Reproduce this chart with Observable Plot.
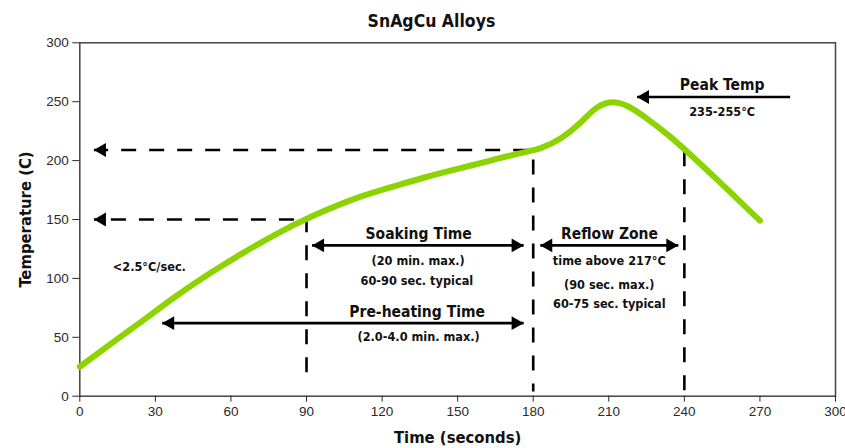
<!DOCTYPE html>
<html><head><meta charset="utf-8">
<script src="https://cdn.jsdelivr.net/npm/d3@7"></script>
<script src="https://cdn.jsdelivr.net/npm/@observablehq/plot@0.6"></script>
<style>
body{margin:0;background:#fff}
#chart svg{display:block}
</style>
</head><body><div id="chart"></div>
<script>
const title = "SnAgCu Alloys";
const xLabel = "Time (seconds)";
const yLabel = "Temperature (C)";
const xTicks = [0, 30, 60, 90, 120, 150, 180, 210, 240, 270, 300];
const yTicks = [0, 50, 100, 150, 200, 250, 300];

// reflow profile
const profileTime = [0, 12, 25, 38, 52, 65, 78, 91, 110, 123, 137, 150, 163, 176, 183, 191, 199, 204, 210, 217, 225, 233, 241, 253, 270];
const profileTemp = [25, 44, 64, 85, 105, 122, 138, 152, 169, 177, 186, 193, 200, 207, 210, 218, 232, 244, 251, 248, 236, 223, 208, 184, 149];

// dashed guide arrows (pointing left, head at x2)
const dashX1 = [178, 85];
const dashX2 = [5.6, 5.6];
const dashY = [209, 150];
// dashed vertical guides
const vLineX = [90, 180, 240];
const vLineTop = [152, 201, 208];
const vLineBottom = [12, 4, 0];

// solid arrows: heads "both" or "end" (end = x2)
const arrowX1 = [92.2, 32.7, 182.8, 282];
const arrowX2 = [176.2, 176.2, 237.6, 221.2];
const arrowY = [128, 62, 128, 254];
const arrowHeads = ["both", "both", "both", "end"];

// annotation texts
const noteText = ["Soaking Time", "(20 min. max.)", "60-90 sec. typical", "Pre-heating Time", "(2.0-4.0 min. max.)",
  "Reflow Zone", "time above 217°C", "(90 sec. max.)", "60-75 sec. typical", "Peak Temp", "235-255°C", "<2.5°C/sec."];
const noteX = [134.5, 134.3, 133.8, 133.9, 134.5, 210.3, 210.2, 210.2, 210.2, 255, 255, 27.6];
const noteY = [138, 115, 98, 71.5, 50, 138, 115, 94.6, 78, 263.8, 241.7, 109.5];
const noteSize = [15.5, 12.6, 12.6, 15.5, 12.6, 15.5, 12.6, 12.6, 12.6, 15.5, 12.6, 12.6];

const profile = profileTime.map((t, i) => ({t, temp: profileTemp[i]}));
const dashH = dashX1.map((x1, i) => ({x1, x2: dashX2[i], y: dashY[i]}));
const dashV = vLineX.map((x, i) => ({x, y1: vLineTop[i], y2: vLineBottom[i]}));
const arrows = arrowX1.map((x1, i) => ({x1, x2: arrowX2[i], y: arrowY[i], heads: arrowHeads[i]}));
const heads = [];
for (const a of arrows) {
  const dir = Math.sign(a.x2 - a.x1);
  heads.push({x: a.x2, y: a.y, dir});
  if (a.heads === "both") heads.push({x: a.x1, y: a.y, dir: -dir});
}
for (const d of dashH) heads.push({x: d.x2, y: d.y, dir: Math.sign(d.x2 - d.x1)});
const notes = noteText.map((text, i) => ({text, x: noteX[i], y: noteY[i], size: noteSize[i]}));

const boldFont = "'Liberation Sans Narrow', 'DejaVu Sans Condensed', 'Arial Narrow', sans-serif";
const headR = Math.sqrt(16 * 3 * Math.sqrt(3) / Math.PI);

const plot = Plot.plot({
  width: 845,
  height: 448,
  marginLeft: 79.3,
  marginRight: 10,
  marginTop: 42.3,
  marginBottom: 52.3,
  style: {fontFamily: "'Liberation Sans', Arial, sans-serif", background: "#fff"},
  x: {domain: [0, 300]},
  y: {domain: [0, 300]},
  marks: [
    Plot.frame({stroke: "#444", strokeWidth: 1.5}),
    Plot.axisX({ticks: xTicks, tickSize: 6, tickPadding: 4, fontSize: 13.5, color: "#2a2a2a", label: null}),
    Plot.axisY({ticks: yTicks, tickSize: 7, tickPadding: 4, fontSize: 13.5, color: "#2a2a2a", label: null}),
    Plot.link(dashH, {x1: "x1", x2: "x2", y1: "y", y2: "y", stroke: "black", strokeWidth: 2.6, strokeDasharray: "15,13"}),
    Plot.link(dashV, {x1: "x", x2: "x", y1: "y1", y2: "y2", stroke: "black", strokeWidth: 2.6, strokeDasharray: "15,13"}),
    Plot.line(profile, {x: "t", y: "temp", stroke: "#8cd400", strokeWidth: 6, curve: "basis", strokeLinecap: "round"}),
    Plot.link(arrows, {x1: "x1", x2: "x2", y1: "y", y2: "y", stroke: "black", strokeWidth: 2.6}),
    Plot.dot(heads.filter(h => h.dir < 0), {x: "x", y: "y", symbol: "triangle", r: headR, fill: "black", stroke: null, rotate: -90, dx: 8}),
    Plot.dot(heads.filter(h => h.dir > 0), {x: "x", y: "y", symbol: "triangle", r: headR, fill: "black", stroke: null, rotate: 90, dx: -8}),
    Plot.text(notes, {x: "x", y: "y", text: "text", fontSize: "size", fontWeight: "bold", fontFamily: boldFont, fill: "#111"}),
    Plot.text([title], {x: 139.6, frameAnchor: "top", dy: -21, lineAnchor: "middle", textAnchor: "middle", text: d => d, fontSize: 17.5, fontWeight: "bold", fontFamily: boldFont, fill: "#111"}),
    Plot.text([xLabel], {frameAnchor: "bottom", dy: 42, lineAnchor: "middle", textAnchor: "middle", text: d => d, fontSize: 16.5, fontWeight: "bold", fontFamily: boldFont, fill: "#111"}),
    Plot.text([yLabel], {frameAnchor: "left", dx: -54, rotate: -90, lineAnchor: "middle", textAnchor: "middle", text: d => d, fontSize: 16.5, fontWeight: "bold", fontFamily: boldFont, fill: "#111"})
  ]
});
document.getElementById("chart").append(plot);
</script>
</body></html>
